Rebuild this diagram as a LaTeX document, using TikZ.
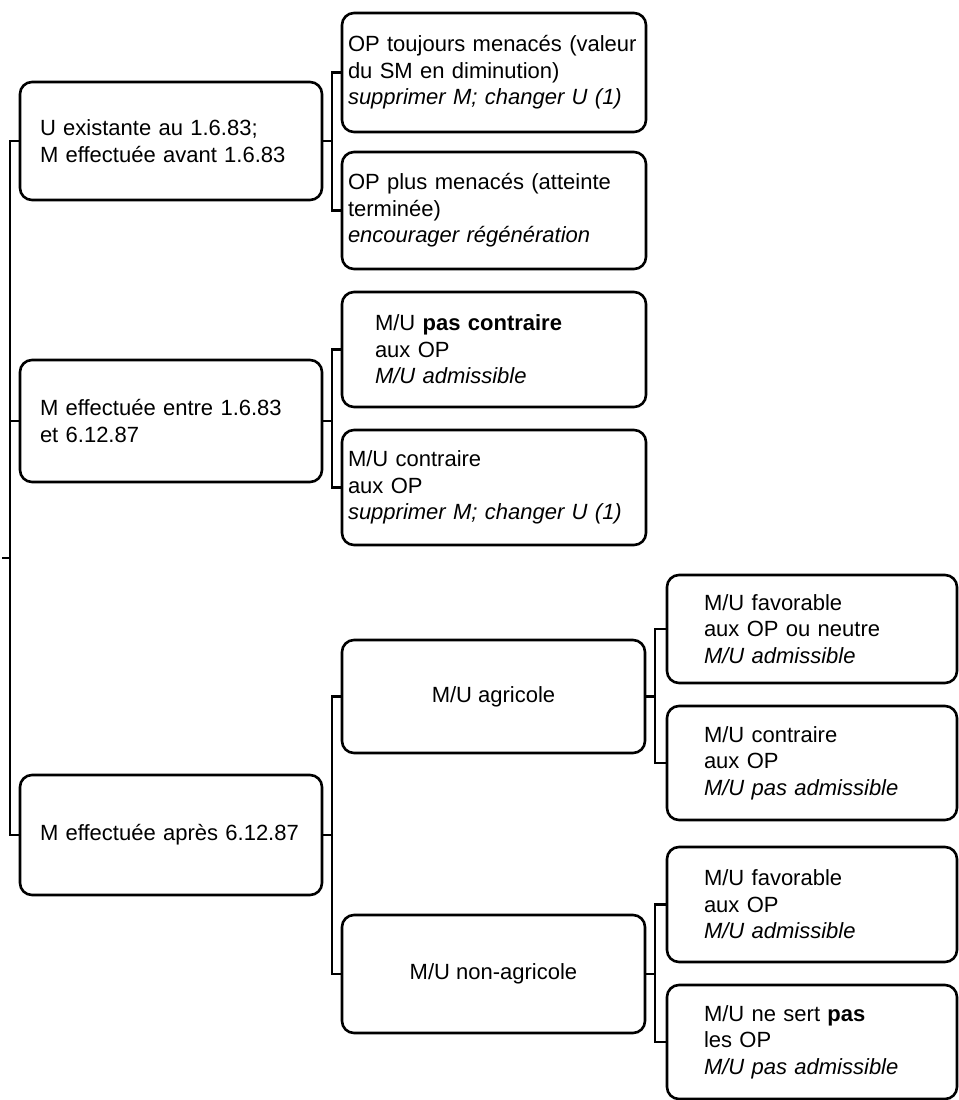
\documentclass[tikz,border=0pt]{standalone}
\usepackage{fontspec}
\setmainfont{Liberation Sans}
\usepackage{tikz}

\begin{document}
\begin{tikzpicture}[x=0.5pt,y=-0.5pt,
    every node/.style={inner sep=0,outer sep=0},
    box/.style={draw,rounded corners=6pt,line width=1.3pt,font=\fontsize{11}{13.2}\selectfont},
    abox/.style={box,minimum width=151pt,text width=131pt,align=left},
    bbox/.style={box,minimum width=152pt,text width=146pt,align=left},
    cbox/.style={box,minimum width=151.5pt,align=center},
    dbox/.style={box,minimum width=145pt,text width=108pt,align=left},
    link/.style={line width=1.3pt}]
    \useasboundingbox (0,0) rectangle (959,1100);

    % first level
    \node(a1)[abox,minimum height=59pt] at (171,141) {U existante au 1.6.83;\\M effectuée avant 1.6.83};
    \node(a2)[abox,minimum height=61pt] at (171,421) {M effectuée entre 1.6.83\\et 6.12.87};
    \node(a3)[abox,minimum height=60pt] at (171,835) {M effectuée après 6.12.87};

    % second level
    \node(b1)[bbox,minimum height=59.5pt] at (494,72.5) {OP toujours menacés (valeur\\du SM en diminution)\\\textit{supprimer M; changer U (1)}};
    \node(b2)[bbox,minimum height=58.5pt] at (494,210.5) {OP plus menacés (atteinte\\terminée)\\\textit{encourager régénération}};
    \node(b3)[bbox,text width=119pt,minimum height=57.5pt] at (494,349.5) {M/U \textbf{pas contraire}\\aux OP\\\textit{M/U admissible}};
    \node(b4)[bbox,minimum height=57.5pt] at (494,487.5) {M/U contraire\\aux OP\\\textit{supprimer M; changer U (1)}};
    \node(c1)[cbox,minimum height=56.5pt] at (493.5,696.5) {M/U agricole};
    \node(c2)[cbox,minimum height=59pt] at (493.5,974) {M/U non-agricole};

    % third level
    \node(d1)[dbox,minimum height=54pt] at (812,629) {M/U favorable\\aux OP ou neutre\\\textit{M/U admissible}};
    \node(d2)[dbox,minimum height=57pt] at (812,763) {M/U contraire\\aux OP\\\textit{M/U pas admissible}};
    \node(d3)[dbox,minimum height=57.5pt] at (812,904.5) {M/U favorable\\aux OP\\\textit{M/U admissible}};
    \node(d4)[dbox,minimum height=57pt] at (812,1042) {M/U ne sert \textbf{pas}\\les OP\\\textit{M/U pas admissible}};

    % buses
    \coordinate (lbus) at (10,558);
    \coordinate (stub) at (2,558);
    \coordinate (bbus1) at (332,141);
    \coordinate (bbus2) at (332,421);
    \coordinate (cbus) at (332,835);
    \coordinate (dbus1) at (655,696.5);
    \coordinate (dbus2) at (655,974);

    \draw[link] (a1.west) -| (lbus) |- (a3.west);
    \draw[link] (a2.west) -- (a2.west -| lbus);
    \draw[link] (stub) -- (lbus);

    \draw[link] (b1.west) -| (bbus1) |- (b2.west);
    \draw[link] (a1.east) -- (bbus1);
    \draw[link] (b3.west) -| (bbus2) |- (b4.west);
    \draw[link] (a2.east) -- (bbus2);
    \draw[link] (c1.west) -| (cbus) |- (c2.west);
    \draw[link] (a3.east) -- (cbus);

    \draw[link] (d1.west) -| (dbus1) |- (d2.west);
    \draw[link] (c1.east) -- (dbus1);
    \draw[link] (d3.west) -| (dbus2) |- (d4.west);
    \draw[link] (c2.east) -- (dbus2);
\end{tikzpicture}
\end{document}
